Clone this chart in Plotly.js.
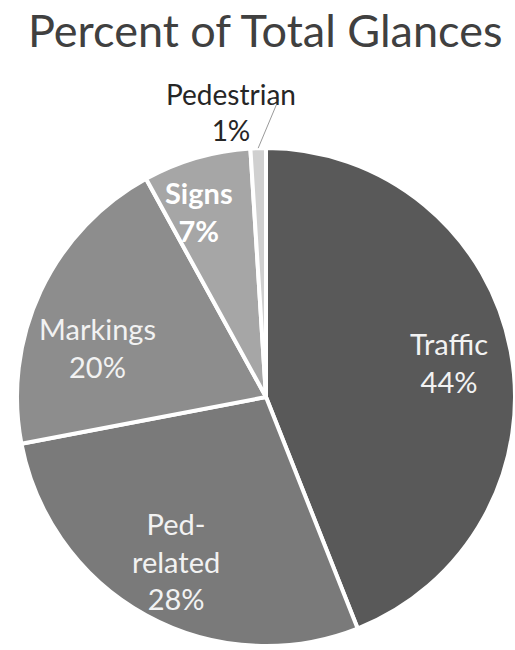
<!DOCTYPE html>
<html>
<head>
<meta charset="utf-8">
<script src="https://cdn.plot.ly/plotly-3.0.1.min.js"></script>
<style>html,body{margin:0;padding:0;background:#fff;}#chart{width:515px;height:650px;}</style>
</head>
<body>
<div id="chart"></div>
<script>
const categories = ["Traffic", "Ped-related", "Markings", "Signs", "Pedestrian"];
const labelLines = ["Traffic", "Ped-<br>related", "Markings", "Signs", "Pedestrian"];
const percents = [44, 28, 20, 7, 1];
const sliceColors = ["#595959", "#7a7a7a", "#8d8d8d", "#a6a6a6", "#d0d0d0"];
const labelColors = ["#f2f2f2", "#f2f2f2", "#f2f2f2", "#ffffff", "#262626"];
const labelBold = [false, false, false, true, false];
const labelOutside = [false, false, false, false, true];
const labelXShift = [0, 0, 0, -15, 0];
const labelYShift = [0, 0, -30, 6, 0];

const W = 515, H = 650;
const domX = [0.033, 1], domY = [0.0046, 0.7738];

const trace = {
  type: "pie",
  labels: categories,
  values: percents,
  sort: false,
  direction: "clockwise",
  rotation: 0,
  marker: {colors: sliceColors, line: {color: "#ffffff", width: 4}},
  textinfo: "none",
  domain: {x: domX, y: domY},
  showlegend: false,
  hoverinfo: "none"
};

// label placement derived from the data (slice mid-angles) and the pie geometry
const cx = (domX[0] + domX[1]) / 2, cy = (domY[0] + domY[1]) / 2;
const Rpx = Math.min((domX[1] - domX[0]) * W, (domY[1] - domY[0]) * H) / 2;
const total = percents.reduce((a, b) => a + b, 0);
const annotations = [];
let cum = 0;
percents.forEach((v, i) => {
  const mid = (cum + v / 2) / total * 2 * Math.PI;
  cum += v;
  const sx = Math.sin(mid), sy = Math.cos(mid);
  let txt = labelLines[i] + "<br>" + v + "%";
  if (labelBold[i]) txt = "<b>" + txt + "</b>";
  if (!labelOutside[i]) {
    const r = 0.75 * Rpx;
    annotations.push({
      xref: "paper", yref: "paper",
      x: cx + r * sx / W, y: cy + r * sy / H,
      xanchor: "center", yanchor: "middle",
      xshift: labelXShift[i], yshift: labelYShift[i],
      text: txt, showarrow: false,
      font: {family: "Lato, sans-serif", size: 29, color: labelColors[i]}
    });
  } else {
    const ex = cx + Rpx * sx / W, ey = cy + Rpx * sy / H;
    annotations.push({
      xref: "paper", yref: "paper", x: ex, y: ey,
      ax: 21, ay: -50, text: "", showarrow: true,
      arrowhead: 0, arrowwidth: 1, arrowcolor: "#9a9a9a"
    });
    annotations.push({
      xref: "paper", yref: "paper", x: ex, y: ey,
      xanchor: "center", yanchor: "middle",
      xshift: -27, yshift: 36,
      text: txt, showarrow: false,
      font: {family: "Lato, sans-serif", size: 28, color: labelColors[i]}
    });
  }
});

const layout = {
  width: W, height: H,
  margin: {l: 0, r: 0, t: 0, b: 0},
  paper_bgcolor: "#ffffff",
  title: {text: "Percent of Total Glances", font: {family: "Lato, sans-serif", size: 45, color: "#404040"}, x: 0.515, xanchor: "center", y: 0.952, yanchor: "middle"},
  showlegend: false,
  annotations: annotations
};

Plotly.newPlot("chart", [trace], layout, {staticPlot: true});
</script>
</body>
</html>
